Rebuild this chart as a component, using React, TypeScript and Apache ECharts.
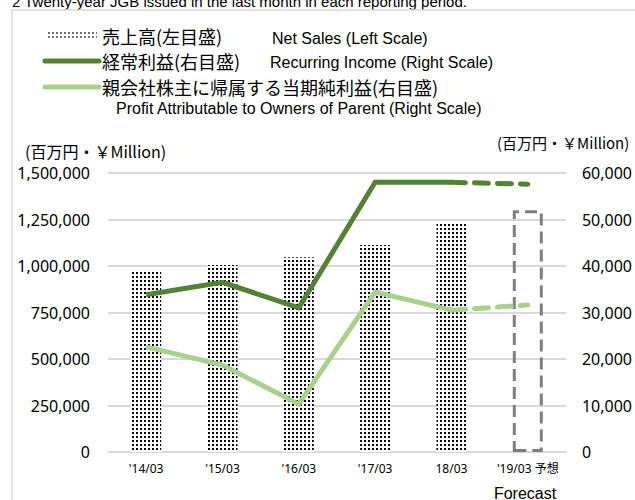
import React, { useEffect, useRef } from "react";
import * as echarts from "echarts";

const categories = ["'14/03", "'15/03", "'16/03", "'17/03", "18/03", "'19/03 予想"];
const netSales = [975000, 1005000, 1047000, 1113000, 1227000, null];
const netSalesForecast = [null, null, null, null, null, 1300000];
const recurring = [33800, 36500, 31000, 58000, 58000, null];
const recurringForecast = [null, null, null, null, 58000, 57600];
const profit = [22600, 18700, 10300, 34400, 30500, null];
const profitForecast = [null, null, null, null, 30500, 31600];
const leftTicks = { min: 0, max: 1500000, interval: 250000 };
const rightTicks = { min: 0, max: 60000, interval: 10000 };

const DARK = "#548235";
const LIGHT = "#a9d18e";
const GRID = "#d9d9d9";
const NUM_FONT = "'Noto Sans', 'Noto Sans CJK JP', sans-serif";
const JP_FONT = "'Noto Sans CJK JP', sans-serif";
const EN_FONT = "'Liberation Sans', Arial, sans-serif";

function makePattern() {
  const c = document.createElement("canvas");
  c.width = 4;
  c.height = 4;
  const ctx = c.getContext("2d")!;
  ctx.fillStyle = "#ffffff";
  ctx.fillRect(0, 0, 4, 4);
  ctx.fillStyle = "#000000";
  ctx.fillRect(0, 0, 2, 2);
  return c;
}

const fmt = (v: number) => v.toLocaleString("en-US");

export default function App() {
  const ref = useRef<HTMLDivElement>(null);
  useEffect(() => {
    if (!ref.current) return;
    const chart = echarts.init(ref.current, null, { renderer: "svg" });
    const pat = makePattern();
    const patternFill: any = { image: pat, repeat: "repeat" };
    chart.setOption({
      animation: false,
      grid: { left: 108, right: 68, top: 173, bottom: 48 },
      xAxis: {
        type: "category",
        data: categories,
        axisLine: { lineStyle: { color: GRID, width: 2 } },
        axisTick: { show: false },
        axisLabel: { color: "#000", fontSize: 12, fontFamily: NUM_FONT, margin: 10, interval: 0 },
      },
      yAxis: [
        {
          type: "value",
          ...leftTicks,
          splitLine: { lineStyle: { color: GRID, width: 2 } },
          axisLine: { show: false },
          axisTick: { show: false },
          axisLabel: { color: "#000", fontSize: 16, fontFamily: NUM_FONT, margin: 18, formatter: fmt },
        },
        {
          type: "value",
          ...rightTicks,
          splitLine: { show: false },
          axisLine: { show: false },
          axisTick: { show: false },
          axisLabel: { color: "#000", fontSize: 16, fontFamily: NUM_FONT, margin: 16, formatter: fmt },
        },
      ],
      series: [
        {
          type: "bar",
          name: "売上高",
          data: netSales,
          yAxisIndex: 0,
          barWidth: 30,
          barGap: "-100%",
          itemStyle: { color: patternFill },
        },
        {
          type: "bar",
          name: "売上高予想",
          data: netSalesForecast,
          yAxisIndex: 0,
          barWidth: 30,
          barGap: "-100%",
          itemStyle: {
            color: "rgba(255,255,255,0)",
            borderColor: "#7f7f7f",
            borderWidth: 3,
            borderType: [12, 6],
          },
        },
        {
          type: "line",
          name: "経常利益",
          data: recurring,
          yAxisIndex: 1,
          symbol: "none",
          lineStyle: { color: DARK, width: 5, join: "miter" },
          z: 5,
        },
        {
          type: "line",
          name: "経常利益予想",
          data: recurringForecast,
          yAxisIndex: 1,
          symbol: "none",
          lineStyle: { color: DARK, width: 5, type: [14, 9], cap: "round" },
          z: 5,
        },
        {
          type: "line",
          name: "純利益",
          data: profit,
          yAxisIndex: 1,
          symbol: "none",
          lineStyle: { color: LIGHT, width: 5, join: "miter" },
          z: 5,
        },
        {
          type: "line",
          name: "純利益予想",
          data: profitForecast,
          yAxisIndex: 1,
          symbol: "none",
          lineStyle: { color: LIGHT, width: 5, type: [14, 9], cap: "round" },
          z: 5,
        },
      ],
      graphic: [
        {
          type: "text",
          x: 12,
          y: 1,
          style: {
            text: "2 Twenty-year JGB issued in the last month in each reporting period.",
            font: `15px ${EN_FONT}`,
            fill: "#000",
            verticalAlign: "middle",
          },
        },
        {
          type: "rect",
          shape: { x: 12, y: 10, width: 700, height: 600 },
          style: { fill: "none", stroke: GRID, lineWidth: 1.5 },
        },
        {
          type: "rect",
          shape: { x: 48, y: 31, width: 49, height: 8 },
          style: { fill: patternFill, opacity: 0.55 },
        },
        {
          type: "text",
          x: 102,
          y: 36,
          style: { text: "売上高(左目盛)", font: `18px ${JP_FONT}`, fill: "#000", verticalAlign: "middle" },
        },
        {
          type: "text",
          x: 272,
          y: 38,
          style: { text: "Net Sales (Left Scale)", font: `16px ${EN_FONT}`, fill: "#000", verticalAlign: "middle" },
        },
        {
          type: "line",
          shape: { x1: 45, y1: 61, x2: 99, y2: 61 },
          style: { stroke: DARK, lineWidth: 5, lineCap: "round" },
        },
        {
          type: "text",
          x: 102,
          y: 61,
          style: { text: "経常利益(右目盛)", font: `18px ${JP_FONT}`, fill: "#000", verticalAlign: "middle" },
        },
        {
          type: "text",
          x: 270,
          y: 62,
          style: { text: "Recurring Income (Right Scale)", font: `16px ${EN_FONT}`, fill: "#000", verticalAlign: "middle" },
        },
        {
          type: "line",
          shape: { x1: 45, y1: 87, x2: 99, y2: 87 },
          style: { stroke: LIGHT, lineWidth: 5, lineCap: "round" },
        },
        {
          type: "text",
          x: 102,
          y: 87,
          style: {
            text: "親会社株主に帰属する当期純利益(右目盛)",
            font: `18px ${JP_FONT}`,
            fill: "#000",
            verticalAlign: "middle",
          },
        },
        {
          type: "text",
          x: 116,
          y: 108,
          style: {
            text: "Profit Attributable to Owners of Parent (Right Scale)",
            font: `16px ${EN_FONT}`,
            fill: "#000",
            verticalAlign: "middle",
          },
        },
        {
          type: "text",
          x: 25,
          y: 151,
          style: { text: "(百万円・￥Million)", font: `16px ${JP_FONT}`, fill: "#000", verticalAlign: "middle" },
        },
        {
          type: "text",
          x: 497,
          y: 142,
          style: { text: "(百万円・￥Million)", font: `15px ${JP_FONT}`, fill: "#000", verticalAlign: "middle" },
        },
        {
          type: "text",
          x: 525,
          y: 493,
          style: { text: "Forecast", font: `16px ${EN_FONT}`, fill: "#000", align: "center", verticalAlign: "middle" },
        },
      ],
    });
    return () => chart.dispose();
  }, []);
  return <div ref={ref} style={{ width: 635, height: 500, position: "absolute", left: 0, top: 0 }} />;
}
